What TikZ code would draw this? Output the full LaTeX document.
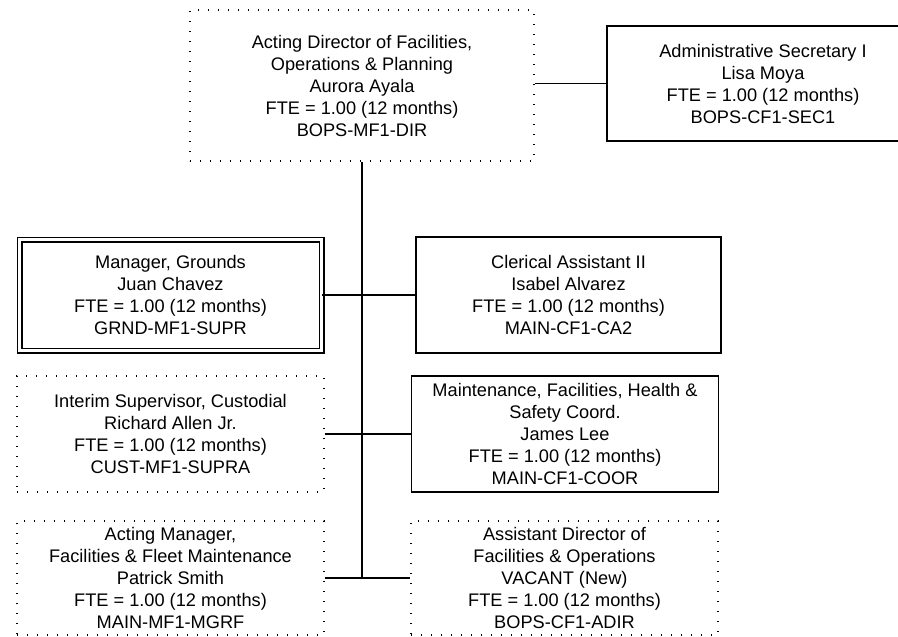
\documentclass[tikz,border=0pt]{standalone}
\usepackage{fontspec}
\setmainfont{Liberation Sans}
\begin{document}
\begin{tikzpicture}[x=1pt,y=-1pt,
  every node/.style={font=\fontsize{18.2}{22}\selectfont, align=center, inner sep=0pt},
  solidbox/.style={draw, line width=1.4pt, rectangle},
  dotbox/.style={draw, line width=1.3pt, dash pattern=on 1.3pt off 8.7pt},
  doublebox/.style={draw, line width=1.2pt, double, double distance=3.6pt},
  link/.style={line width=1.4pt},
  trunk/.style={line width=1.7pt},
]
\fill[white] (0,0) rectangle (898,637);
\useasboundingbox (0,0) rectangle (898,637);

% head of the unit
\node[dotbox, minimum width=344pt, minimum height=151pt] (dir) at (362,85.5)
  {Acting Director of Facilities,\\Operations \& Planning\\Aurora Ayala\\FTE = 1.00 (12 months)\\BOPS-MF1-DIR};
\node[solidbox, minimum width=312pt, minimum height=115pt] (sec) at (763,83.5)
  {Administrative Secretary I\\Lisa Moya\\FTE = 1.00 (12 months)\\BOPS-CF1-SEC1};

% second row
\node[doublebox, minimum width=302pt, minimum height=111pt] (grounds) at (170.5,295)
  {Manager, Grounds\\Juan Chavez\\FTE = 1.00 (12 months)\\GRND-MF1-SUPR};
\node[solidbox, minimum width=305pt, minimum height=116pt] (clerical) at (568.5,295)
  {Clerical Assistant II\\Isabel Alvarez\\FTE = 1.00 (12 months)\\MAIN-CF1-CA2};

% third row
\node[dotbox, minimum width=307pt, minimum height=116pt] (custodial) at (170.5,434)
  {Interim Supervisor, Custodial\\Richard Allen Jr.\\FTE = 1.00 (12 months)\\CUST-MF1-SUPRA};
\node[solidbox, minimum width=307pt, minimum height=116pt] (coord) at (565,434)
  {Maintenance, Facilities, Health \&\\Safety Coord.\\James Lee\\FTE = 1.00 (12 months)\\MAIN-CF1-COOR};

% fourth row
\node[dotbox, minimum width=307pt, minimum height=114pt] (fleet) at (170.5,578)
  {Acting Manager,\\Facilities \& Fleet Maintenance\\Patrick Smith\\FTE = 1.00 (12 months)\\MAIN-MF1-MGRF};
\node[dotbox, minimum width=307pt, minimum height=114pt] (asstdir) at (564.5,578)
  {Assistant Director of\\Facilities \& Operations\\VACANT (New)\\FTE = 1.00 (12 months)\\BOPS-CF1-ADIR};

% reporting lines
\coordinate (trunkend) at (dir.south |- asstdir.west);
\draw[trunk] (dir.south) -- (trunkend);
\draw[link] (sec.west) -- (sec.west -| dir.east);
\draw[link] (grounds.east) -- (clerical.west);
\draw[link] (custodial.east) -- (coord.west);
\draw[link] (fleet.east) -- (asstdir.west);
\end{tikzpicture}
\end{document}
